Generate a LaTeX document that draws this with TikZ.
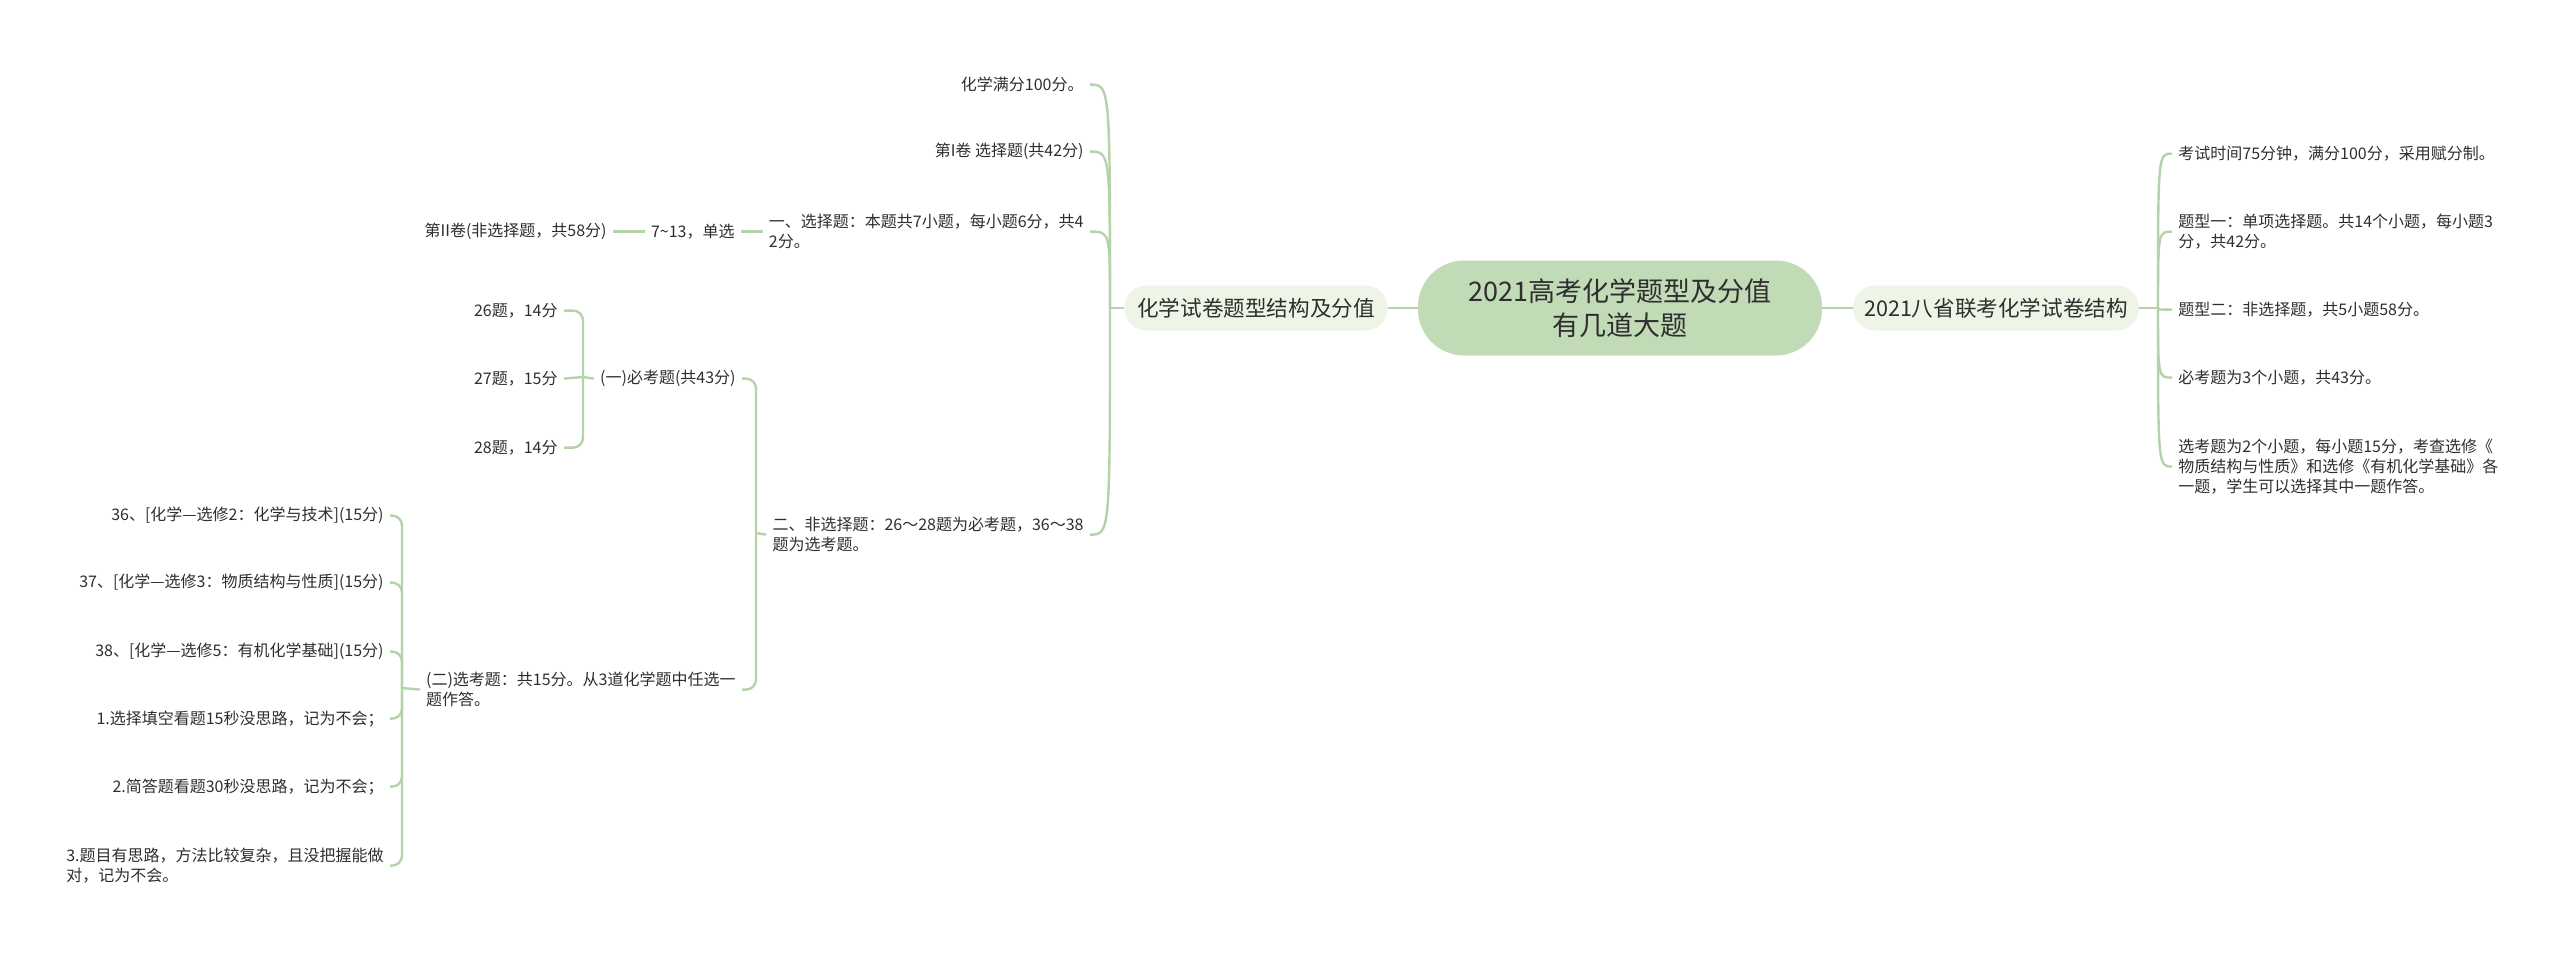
\documentclass[tikz,border=0pt]{standalone}
\usepackage{fontspec}
\setmainfont{Noto Sans CJK SC}
\usepackage{tikz}

\definecolor{rootfill}{HTML}{C2DBB7}
\definecolor{mainfill}{HTML}{EEF5E6}
\definecolor{linkgreen}{HTML}{B5D3AA}
\definecolor{inkgray}{HTML}{2E2E2E}

\tikzset{
  root/.style={fill=rootfill, rounded corners=23pt, minimum width=202pt, minimum height=47.5pt,
    align=center, font=\fontsize{13.5}{17}\selectfont, text=inkgray},
  mainnode/.style={fill=mainfill, rounded corners=11pt, minimum height=22.5pt, inner xsep=4pt,
    font=\fontsize{10.8}{13}\selectfont, text=inkgray},
  leaf/.style={inner xsep=3pt, inner ysep=2pt, yshift=-0.8pt, align=left, font=\fontsize{8}{10}\selectfont, text=inkgray},
  link/.style={draw=linkgreen, line width=1.2pt},
  elbow/.style={link, rounded corners=5pt},
}

\begin{document}
\begin{tikzpicture}[x=0.5pt, y=-0.5pt]
        \useasboundingbox (0,0) rectangle (2560,959);
        \def \lx {1090} % right end of the leaves of the left branch
        \def \rx {2172} % left end of the leaves of the right branch
        
        \node[root] at (1620,308) (root) {2021高考化学题型及分值\\有几道大题};
        \node[mainnode, minimum width=131.5pt] at (1256,308) (juan) {化学试卷题型结构及分值};
        \node[mainnode, minimum width=143pt] at (1996,308) (bsheng) {2021八省联考化学试卷结构};
        \draw[link] (root) -- (juan);
        \draw[link] (root) -- (bsheng);
        
        % left branch
        \coordinate (pj) at (1110,308);
        \draw[link] (juan.west) -- (pj);
        \node[leaf, anchor=east] at (\lx,83) (p1) {化学满分100分。};
        \node[leaf, anchor=east] at (\lx,150) (p2) {第I卷 选择题(共42分)};
        \node[leaf, anchor=east] at (\lx,230) (p3) {一、选择题：本题共7小题，每小题6分，共4\\2分。};
        \node[leaf, anchor=east] at (\lx,533) (p4) {二、非选择题：26～28题为必考题，36～38\\题为选考题。};
        \foreach \i in {1,...,4}{
          \draw[link] (pj) .. controls (pj |- p\i.east) .. (p\i.east);
        }
        
        \node[leaf, anchor=east] at (741,230) (dan) {7\textasciitilde13，单选};
        \node[leaf, anchor=east] at (613,230) (juanII) {第II卷(非选择题，共58分)};
        \draw[link] (p3) -- (dan);
        \draw[link] (dan) -- (juanII);
        
        \node[leaf, anchor=east] at (742,377) (bi) {(一)必考题(共43分)};
        \node[leaf, anchor=east] at (742,688) (xuan) {(二)选考题：共15分。从3道化学题中任选一\\题作答。};
        \coordinate (fj) at (756,533);
        \draw[link] (p4.west) -- (fj);
        \draw[elbow] (bi.east) -| (fj) |- (xuan.east);
        
        \coordinate (mj) at (583,377);
        \draw[link] (bi.west) -- (mj);
        \foreach \y/\txt [count=\i] in {309/{26题，14分}, 377/{27题，15分}, 446/{28题，14分}}{
          \node[leaf, anchor=east] at (564,\y) (m\i) {\txt};
        }
        \draw[elbow] (m1.east) -| (mj) |- (m3.east);
        \draw[link] (mj) -- (m2.east);
        
        \coordinate (xj) at (402,688);
        \draw[link] (xuan.west) -- (xj);
        \foreach \y/\txt [count=\i] in {514/{36、[化学—选修2：化学与技术](15分)},
            581/{37、[化学—选修3：物质结构与性质](15分)},
            650/{38、[化学—选修5：有机化学基础](15分)},
            717/{1.选择填空看题15秒没思路，记为不会；},
            785/{2.简答题看题30秒没思路，记为不会；},
            864/{3.题目有思路，方法比较复杂，且没把握能做\\对，记为不会。}}{
          \node[leaf, anchor=east] at (390,\y) (x\i) {\txt};
        }
        \draw[elbow] (x1.east) -| (xj) |- (x6.east);
        \foreach \i in {2,...,5}{
          \draw[elbow] (xj) |- (x\i.east);
        }
        
        % right branch
        \coordinate (sj) at (2158,308);
        \draw[link] (bsheng.east) -- (sj);
        \foreach \y/\txt [count=\i] in {152/{考试时间75分钟，满分100分，采用赋分制。},
            230/{题型一：单项选择题。共14个小题，每小题3\\分，共42分。},
            308/{题型二：非选择题，共5小题58分。},
            376/{必考题为3个小题，共43分。},
            465/{选考题为2个小题，每小题15分，考查选修《\\物质结构与性质》和选修《有机化学基础》各\\一题，学生可以选择其中一题作答。}}{
          \node[leaf, anchor=west] at (\rx,\y) (s\i) {\txt};
          \draw[link] (sj) .. controls (sj |- s\i.west) .. (s\i.west);
        }
\end{tikzpicture}
\end{document}
